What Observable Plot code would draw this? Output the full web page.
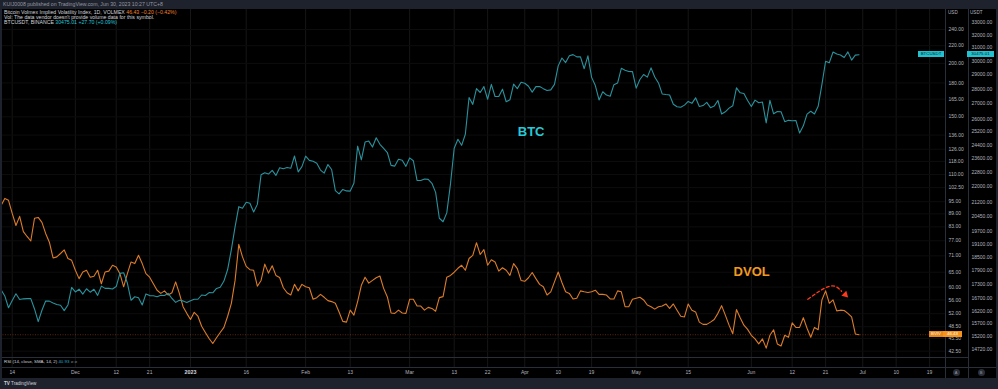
<!DOCTYPE html>
<html><head><meta charset="utf-8">
<script src="https://cdn.jsdelivr.net/npm/d3@7"></script>
<script src="https://cdn.jsdelivr.net/npm/@observablehq/plot@0.6"></script>
<style>
html,body{margin:0;padding:0;background:#000;}
#chart{position:relative;width:998px;height:389px;overflow:hidden;background:#000;font-family:"Liberation Sans",Arial,sans-serif;}
#chart svg{position:absolute;left:0;top:0;}
.band{position:absolute;left:0;width:998px;background:#1e222d;}
.txt{position:absolute;white-space:nowrap;line-height:1;color:#b2b5be;}
.sep{position:absolute;background:#2a2e39;}
.tag{position:absolute;height:6px;font-size:4.4px;line-height:6px;text-align:center;white-space:nowrap;}
.circ{position:absolute;width:7px;height:7px;border-radius:50%;background:#2a2e39;color:#9598a1;font-size:4px;line-height:7px;text-align:center;}
</style></head><body><div id="chart"></div>
<script>
// ---- data (daily closes from 2022-11-11 to 2023-06-30) ----
const startDay = "2022-11-11";
const btcClose = [
  // Nov 11-30
  17070,16812,16330,16619,16900,16662,16692,16700,16700,16280,15781,16227,16603,16598,16522,16459,16428,16213,16442,17168,
  // Dec
  16978,17093,16886,17112,16967,17089,16836,17224,17128,17128,17105,17206,17775,17803,17356,16633,16777,16737,16438,16896,16825,16821,16778,16836,16832,16919,16706,16547,16633,16607,16542,
  // Jan
  16616,16672,16675,16850,16831,16950,16943,17127,17178,17440,17943,18846,19930,20954,20871,21185,21132,20677,21071,22667,22783,22707,22916,22632,23060,23009,23074,23031,23743,22827,23125,
  // Feb
  23733,23488,23431,23326,22932,22762,23245,22963,21796,21625,21862,21783,21773,22200,24324,23518,24570,24631,24271,24837,24439,24188,23947,23198,23157,23554,23492,23141,
  // Mar
  23629,23465,22354,22346,22430,22410,22196,21705,20363,20187,20633,22163,24197,24746,24375,25052,27423,26965,28038,27767,28175,27307,28333,27493,27494,27994,27139,27268,28348,28033,28478,
  // Apr
  28411,28199,27790,28170,28175,28033,27906,27948,28333,29652,30235,29892,30399,30485,30318,30315,29445,30397,28823,28245,27262,27817,27591,27514,28307,28429,29473,29340,29248,29233,
  // May
  28068,28669,29026,28838,29506,28848,28430,27668,27628,27598,26969,26805,26775,26917,27163,27033,27405,26821,26886,27102,26747,26850,27225,26334,26476,26719,26868,28085,27745,27702,27219,
  // Jun
  26819,27249,27075,27119,25760,27238,26346,26498,26477,25841,25925,25902,25918,25124,25576,26327,26510,26336,26841,28307,29993,29886,30688,30528,30462,30267,30692,30078,30447.31,30475.01
];
const dvolClose = [
  // Nov 11-30
  93.1,96.7,95.7,89.2,83.6,87.8,80.9,78.8,76.9,86.9,87.3,85.0,80.1,76.4,70.2,70.6,71.9,73.3,70.0,69.3,
  // Dec
  65.7,62.8,65.1,65.7,63.3,63.6,65.7,61.1,65.1,65.4,67.5,66.9,64.5,60.1,64.5,68.7,68.1,71.2,68.1,64.5,63.3,61.1,59.0,58.0,58.8,57.5,58.2,61.7,58.0,54.0,52.1,
  // Jan
  50.4,52.4,51.3,48.6,47.0,45.5,44.3,45.7,47.0,48.3,51.3,55.0,62.2,75.5,70.6,67.1,65.9,65.7,60.3,62.2,67.9,64.7,67.3,63.9,63.2,59.8,58.2,57.5,60.9,58.8,60.9,
  // Feb
  60.1,59.8,56.2,56.7,57.7,56.8,55.8,55.5,55.0,52.5,49.9,49.7,53.0,51.6,55.5,60.6,63.3,61.3,62.2,63.1,63.7,59.6,56.9,52.2,52.1,53.0,52.2,52.1,
  // Mar
  56.2,56.2,54.2,54.2,53.0,53.8,53.5,52.7,56.7,57.0,63.3,63.9,65.0,66.4,67.5,65.7,70.0,71.2,76.2,71.5,73.4,67.5,69.5,68.7,65.4,66.6,65.7,63.9,68.1,66.3,62.2,
  // Apr
  61.9,63.1,64.9,62.8,60.9,60.1,57.5,58.5,61.7,65.1,61.5,58.5,58.0,56.3,56.5,58.8,58.5,58.3,58.5,59.0,57.7,57.7,57.5,56.3,56.3,58.8,58.5,54.0,54.0,56.2,
  // May
  56.5,56.8,56.0,54.5,54.0,53.3,54.0,54.2,54.8,53.5,54.8,53.0,51.3,51.1,54.8,53.0,52.5,49.7,49.1,49.1,49.7,50.4,52.1,54.3,51.6,48.9,46.7,53.2,50.9,48.9,47.8,
  // Jun
  46.3,45.4,44.2,45.4,43.2,46.3,47.7,44.2,43.7,46.3,45.8,49.5,48.3,48.3,50.9,48.1,45.8,48.3,47.7,56.0,58.8,55.0,56.0,52.8,53.0,52.9,52.1,51.1,46.63,46.43
];
const xTickDates = ["2022-11-14","2022-12-01","2022-12-12","2022-12-21","2023-01-01","2023-01-16","2023-02-01","2023-02-13","2023-03-01","2023-03-13","2023-03-22","2023-04-01","2023-04-10","2023-04-19","2023-05-01","2023-05-15","2023-06-01","2023-06-12","2023-06-21","2023-07-01","2023-07-10","2023-07-19"];
const usdTicks = [42.5,45.5,48.5,52,56,60,65,71,77,83,89,95,102.5,110,118,126,136,150,165,180,200,220,240];
const usdtTicks = [14720,15200,15700,16200,16700,17300,17900,18500,19100,19700,20450,21200,22000,22800,23600,24400,25200,26000,27000,28000,29000,30000,31000,32000,33000];
const btcLabel = [{date:"2023-04-02T17:00Z", price:25190, text:"BTC"}];
const dvolLabel = [{date:"2023-06-01T02:00Z", value:65.0, text:"DVOL"}];
const arcPoints = [{date:"2023-06-16T05:00Z", value:56.2},{date:"2023-06-22T02:00Z", value:60.3},{date:"2023-06-25T07:00Z", value:58.7}];
const arrowHead = [{date:"2023-06-26T07:00Z", value:57.6}];

// ---- build ----
const days = d3.utcDay.range(new Date(startDay), d3.utcDay.offset(new Date(startDay), btcClose.length));
const rows = days.map((date,i)=>({date, btc:btcClose[i], dvol:dvolClose[i]}));
const ticks = xTickDates.map(s=>new Date(s));
const isYear = d => d.getUTCDate()===1 && d.getUTCMonth()===0;
const fmtTick = d => d.getUTCDate()===1 ? (d.getUTCMonth()===0 ? String(d.getUTCFullYear()) : d3.utcFormat("%b")(d)) : String(d.getUTCDate());
const parse = a => a.map(o=>({...o, date:new Date(o.date)}));

const W=998, H=389;
const base = {width:W, height:H, marginLeft:0, marginRight:53, marginTop:9, marginBottom:22,
  style:{background:"transparent", color:"#b2b5be", fontFamily:"Liberation Sans, Arial, sans-serif", overflow:"visible"}};
const xScale = {type:"utc", domain:[new Date("2022-11-10T20:14Z"), new Date("2023-07-23T06:43Z")], range:[0,945]};

const plotA = Plot.plot({...base,
  x: xScale,
  y: {type:"log", domain:[42.5,240], range:[350.7,29]},
  marks: [
    Plot.ruleX(ticks, {stroke:"#161616"}),
    Plot.ruleY(usdTicks, {stroke:"#0d0d0d"}),
    Plot.ruleY([dvolClose[dvolClose.length-1]], {stroke:"#b84a1a", strokeOpacity:0.5, strokeDasharray:"1,1.5"}),
    Plot.line(rows, {x:"date", y:"dvol", stroke:"#dc7c2a", strokeWidth:1.1}),
    Plot.axisY(usdTicks, {anchor:"right", tickSize:0, tickPadding:3, tickFormat:d=>d.toFixed(2), fontSize:5, label:null}),
    Plot.axisX(ticks.filter(d=>!isYear(d)), {anchor:"bottom", tickSize:0, tickPadding:3, tickFormat:fmtTick, fontSize:5, label:null}),
    Plot.axisX(ticks.filter(isYear), {anchor:"bottom", tickSize:0, tickPadding:3, tickFormat:fmtTick, fontSize:5.4, fontWeight:"bold", color:"#d1d4dc", label:null}),
    Plot.text(parse(dvolLabel), {x:"date", y:"value", text:"text", fill:"#f39a1e", fontSize:13, fontWeight:"bold"}),
    Plot.line(parse(arcPoints), {x:"date", y:"value", curve:"natural", stroke:"#ff3a1c", strokeWidth:1.3, strokeDasharray:"3,2.5"}),
    Plot.dot(parse(arrowHead), {x:"date", y:"value", symbol:"triangle", r:2.6, fill:"#ff3a1c", rotate:135})
  ]
});

const plotB = Plot.plot({...base,
  x: {...xScale, axis:null},
  y: {type:"log", domain:[14720,33000], range:[349.3,22]},
  marks: [
    Plot.line(rows, {x:"date", y:"btc", stroke:"#2a929d", strokeWidth:1.1}),
    Plot.axisY(usdtTicks, {anchor:"right", tickSize:0, tickPadding:26, tickFormat:d=>d.toFixed(2), fontSize:5, label:null}),
    Plot.text(parse(btcLabel), {x:"date", y:"price", text:"text", fill:"#27c9d8", fontSize:13, fontWeight:"bold"})
  ]
});

const chart = document.getElementById("chart");
function add(cls, css, html){const e=document.createElement("div"); e.className=cls; Object.assign(e.style, css); if(html!=null) e.innerHTML=html; chart.appendChild(e); return e;}

add("band", {top:"0px", height:"9px"});
add("band", {top:"378px", height:"11px"});
chart.appendChild(plotA);
chart.appendChild(plotB);
// frame separators
add("sep", {left:"945px", top:"9px", width:"1px", height:"369px"});
add("sep", {left:"968px", top:"9px", width:"1px", height:"369px"});
add("sep", {left:"0px", top:"357px", width:"968px", height:"1px"});
add("sep", {left:"0px", top:"367px", width:"998px", height:"1px"});
add("band", {top:"9px", height:"369px", width:"2px"});
add("band", {top:"9px", height:"369px", width:"2px", left:"996px"});

// header & legends
add("txt", {left:"3px", top:"1.8px", fontSize:"5.2px", color:"#9598a1"}, "KUIJ0008 published on TradingView.com, Jun 30, 2023 10:27 UTC+8");
add("txt", {left:"4px", top:"10.1px", fontSize:"5.2px", color:"#d1d4dc"}, 'Bitcoin Volmex Implied Volatility Index, 1D, VOLMEX <span style="color:#f0822a">46.43 −0.20 (−0.42%)</span>');
add("txt", {left:"4px", top:"15px", fontSize:"5.2px", color:"#d1d4dc"}, "Vol: The data vendor doesn't provide volume data for this symbol.");
add("txt", {left:"4px", top:"19.9px", fontSize:"5.2px", color:"#d1d4dc"}, 'BTCUSDT, BINANCE <span style="color:#26c6da">30475.01 +27.70 (+0.09%)</span>');
add("txt", {left:"4px", top:"360px", fontSize:"4.4px", color:"#d1d4dc"}, 'RSI (14, close, SMA, 14, 2) <span style="color:#26a9c9">40.93</span> <span style="color:#787b86">ø ø</span>');
add("txt", {left:"948px", top:"10.7px", fontSize:"4.6px"}, "USD");
add("txt", {left:"970px", top:"10.7px", fontSize:"4.6px"}, "USDT");
add("txt", {left:"4px", top:"382px", fontSize:"4.6px", color:"#d1d4dc"}, '<b>TV</b> TradingView');
add("circ", {left:"952.5px", top:"368.5px"}, "A");
add("circ", {left:"977.5px", top:"368.5px"}, "B");

// price tags from the scales
const yA = plotA.scale("y"), yB = plotB.scale("y");
const btcY = yB.apply(btcClose[btcClose.length-1]);
const dvolY = yA.apply(dvolClose[dvolClose.length-1]);
add("tag", {left:"918px", width:"26px", top:(btcY-3)+"px", background:"#22c3d0", color:"#0b1a1c"}, "BTCUSDT");
add("tag", {left:"967px", width:"27px", top:(btcY-3)+"px", background:"#22c3d0", color:"#0b1a1c"}, (btcClose[btcClose.length-1]).toFixed(2));
add("tag", {left:"929px", width:"14px", top:(dvolY-3)+"px", background:"#e8861c", color:"#fff3e0"}, "BVIV");
add("tag", {left:"943px", width:"19px", top:(dvolY-3)+"px", background:"#f7931a", color:"#ffffff"}, (dvolClose[dvolClose.length-1]).toFixed(2));
</script></body></html>
